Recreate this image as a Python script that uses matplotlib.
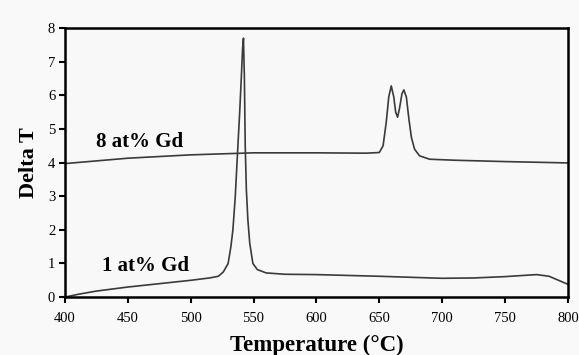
import matplotlib.pyplot as plt

# 1 at% Gd curve (temperature in C, delta T)
t_1gd = [400, 410, 425, 450, 475, 500, 515, 522, 526, 529.8, 532, 533.6, 535.5,
         537.3, 539, 540.5, 541.3, 542, 542.7, 543.4, 544.3, 545.5, 547, 549.5,
         553, 560, 575, 600, 650, 700, 725, 750, 775, 785, 800]
dt_1gd = [0.0, 0.08, 0.18, 0.30, 0.40, 0.50, 0.57, 0.62, 0.75, 1.0, 1.5, 2.0, 3.0,
          4.3, 5.5, 6.7, 7.4, 7.7, 6.6, 4.5, 3.2, 2.3, 1.6, 1.0,
          0.82, 0.72, 0.68, 0.67, 0.62, 0.56, 0.57, 0.61, 0.67, 0.62, 0.38]

# 8 at% Gd curve
t_8gd = [400, 450, 500, 550, 600, 640, 650, 653, 655.5, 657.5, 659.5, 661.5, 663,
         664.5, 666, 668, 669.5, 671.5, 673.5, 675.5, 678, 682, 690, 710, 750, 800]
dt_8gd = [3.97, 4.13, 4.23, 4.29, 4.29, 4.28, 4.30, 4.5, 5.2, 5.95, 6.28, 5.95, 5.5,
          5.35, 5.6, 6.05, 6.16, 5.95, 5.3, 4.75, 4.4, 4.2, 4.1, 4.07, 4.03, 3.99]

x_ticks = [400, 450, 500, 550, 600, 650, 700, 750, 800]
y_ticks = [0, 1, 2, 3, 4, 5, 6, 7, 8]

plt.rcParams['font.family'] = ['Liberation Serif', 'DejaVu Serif']

fig = plt.figure(figsize=(5.79, 3.55), dpi=100, facecolor='#f9f9f9')
ax = fig.add_axes([0.112, 0.163, 0.869, 0.758])
ax.set_facecolor('#f8f8f8')

ax.plot(t_1gd, dt_1gd, color='#3a3a3a', linewidth=1.2)
ax.plot(t_8gd, dt_8gd, color='#3a3a3a', linewidth=1.2)

ax.text(425, 4.45, '8 at% Gd', fontsize=15, fontweight='bold')
ax.text(429.5, 0.78, '1 at% Gd', fontsize=15, fontweight='bold')

ax.set_xlim(400, 800)
ax.set_ylim(0, 8)
ax.set_xticks(x_ticks)
ax.set_yticks(y_ticks)
ax.tick_params(direction='out', length=4, width=1.5, labelsize=10.5, pad=3)
ax.tick_params(axis='x', pad=7)

for spine in ax.spines.values():
    spine.set_linewidth(1.8)
    spine.set_color('black')

ax.set_xlabel('Temperature (°C)', fontsize=16.5, fontweight='bold', labelpad=7)
ax.set_ylabel('Delta T', fontsize=16, fontweight='bold', labelpad=6)

plt.savefig('out.png', dpi=100, facecolor=fig.get_facecolor())
plt.close()
